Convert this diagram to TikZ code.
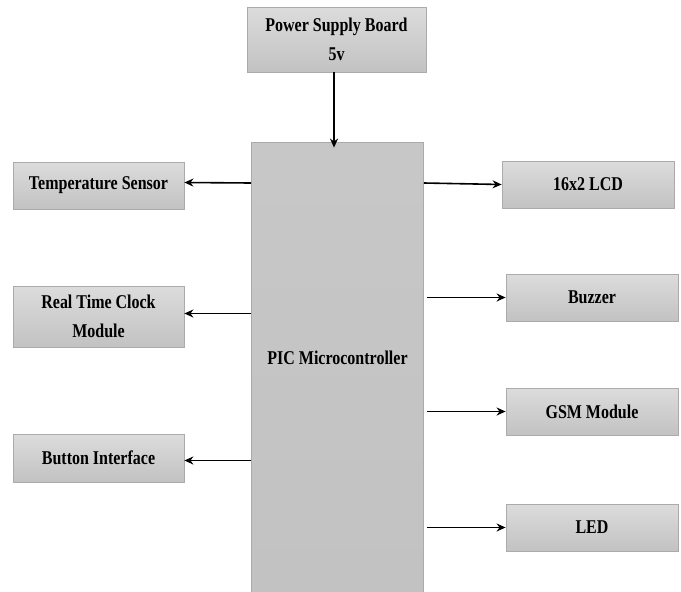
\documentclass[tikz,border=0pt]{standalone}
\usepackage{fontspec}
\setmainfont{Liberation Serif}[FakeStretch=0.82]
\usetikzlibrary{arrows.meta}
\definecolor{boxtop}{HTML}{DCDCDC}
\definecolor{boxbot}{HTML}{C2C2C2}
\definecolor{boxline}{HTML}{ABABAB}
\tikzset{
  blk/.style={draw=boxline, line width=0.8pt, top color=boxtop, bottom color=boxbot,
    rectangle, inner sep=0pt, align=center, font=\fontsize{19.5}{29}\selectfont\bfseries},
  conn/.style={line width=1.6pt, -{Stealth[length=9pt,width=8pt]}}
}
\begin{document}
\begin{tikzpicture}[x=1pt,y=-1pt]
\useasboundingbox (0,0) rectangle (681,592);
\node[blk, minimum width=179pt, minimum height=65pt] (power) at (336.5,39.5) {Power Supply Board\\5v};
\node[blk, minimum width=172pt, minimum height=450pt, top color=boxbot!80!boxtop] (pic) at (337.5,367) {\raisebox{18pt}{PIC Microcontroller}};
\node[blk, minimum width=171pt, minimum height=47pt] (temp) at (98.5,185.5) {Temperature Sensor};
\node[blk, minimum width=171pt, minimum height=61pt] (rtc) at (98.5,316.5) {Real Time Clock\\Module};
\node[blk, minimum width=171pt, minimum height=48pt] (btn) at (98.5,458) {Button Interface};
\node[blk, minimum width=172pt, minimum height=47pt] (lcd) at (588,184.5) {16x2 LCD};
\node[blk, minimum width=172pt, minimum height=47pt] (buz) at (592,297.5) {Buzzer};
\node[blk, minimum width=172pt, minimum height=47pt] (gsm) at (592,411.5) {GSM Module};
\node[blk, minimum width=172pt, minimum height=47pt] (led) at (592,527.5) {LED};
\draw[conn] ([xshift=-2.5pt]power.south) -- ([xshift=-3.5pt,yshift=-6pt]pic.north);
\draw[conn] (pic.west |- 0,183) -- (temp.east |- 0,182.5);
\draw[conn] (pic.west |- 0,313.5) -- (rtc.east |- 0,313.5);
\draw[conn] (pic.west |- 0,460.5) -- (btn.east |- 0,460.5);
\draw[conn] (pic.east |- 0,183) -- (lcd.west |- 0,184.5);
\draw[conn] ([xshift=3.5pt]pic.east |- buz.west) -- (buz.west);
\draw[conn] ([xshift=3.5pt]pic.east |- gsm.west) -- (gsm.west);
\draw[conn] ([xshift=3.5pt]pic.east |- led.west) -- (led.west);
\end{tikzpicture}
\end{document}
